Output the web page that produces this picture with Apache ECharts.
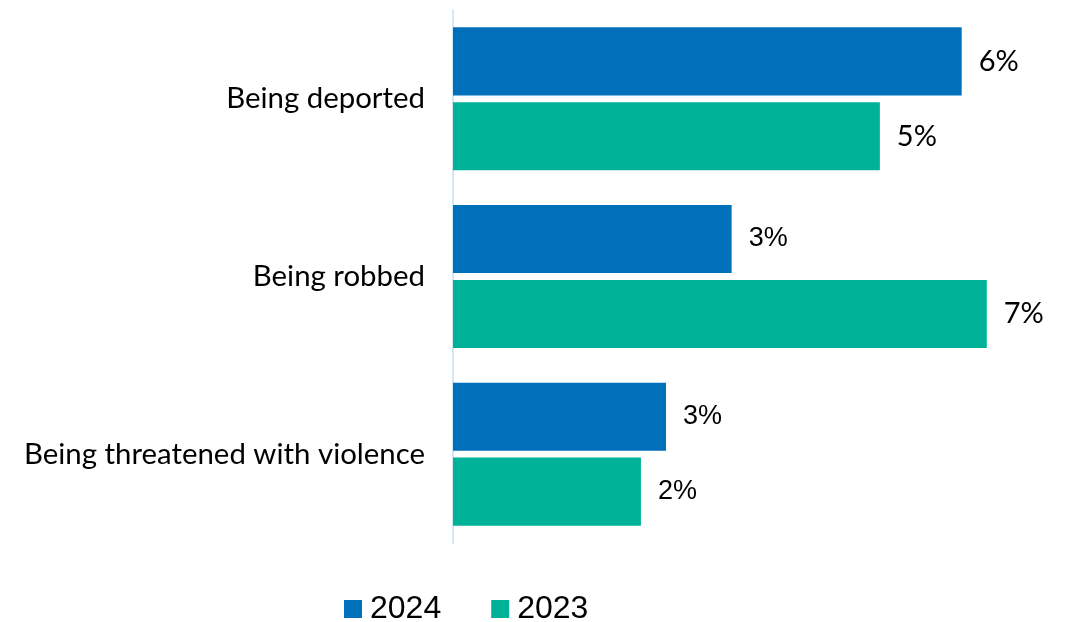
<!DOCTYPE html>
<html>
<head>
<meta charset="utf-8">
<script src="https://cdn.jsdelivr.net/npm/echarts@6/dist/echarts.min.js"></script>
<style>
  html, body { margin: 0; padding: 0; background: #ffffff; }
  #chart { width: 1066px; height: 622px; }
</style>
</head>
<body>
<div id="chart"></div>
<script>
// Share of respondents reporting each experience, by survey year (%)
const categories = ['Being deported', 'Being robbed', 'Being threatened with violence'];
const seriesNames = ['2024', '2023'];
const values2024 = [6.28, 3.44, 2.63];
const values2023 = [5.27, 6.59, 2.32];

const BLUE = '#0070BA';
const GREEN = '#00B398';
const LATO = 'Lato';
const SANS = '"Liberation Sans", Arial, sans-serif';

const chart = echarts.init(document.getElementById('chart'), null, { renderer: 'canvas' });

// Larger shares are set in Lato, the smaller ones in a plain sans face
const barLabel = {
  show: true,
  position: 'right',
  distance: 17,
  color: '#000000',
  formatter: p => {
    const pct = Math.round(p.value) + '%';
    return p.value >= 4.5 ? '{lato|' + pct + '}' : '{sans|' + pct + '}';
  },
  rich: {
    lato: { fontFamily: LATO, fontSize: 29, color: '#000000' },
    sans: { fontFamily: SANS, fontSize: 27, color: '#000000' }
  }
};

chart.setOption({
  animation: false,
  backgroundColor: '#ffffff',
  grid: { left: 453, right: 46, top: 10, bottom: 79, containLabel: false },
  legend: {
    data: seriesNames,
    left: 344,
    top: 593,
    padding: 0,
    itemWidth: 18,
    itemHeight: 18,
    itemGap: 50,
    icon: 'rect',
    textStyle: { fontFamily: SANS, fontSize: 32, color: '#000000', padding: [2, 0, 0, 3] }
  },
  xAxis: {
    type: 'value',
    min: 0,
    max: 7,
    show: false
  },
  yAxis: {
    type: 'category',
    data: categories,
    inverse: true,
    axisLine: { show: true, lineStyle: { color: '#D3E8F7', width: 2 } },
    axisTick: { show: false },
    axisLabel: {
      fontFamily: LATO,
      fontSize: 29.4,
      color: '#000000',
      margin: 28
    }
  },
  series: [
    {
      name: seriesNames[0],
      type: 'bar',
      data: values2024,
      itemStyle: { color: BLUE },
      barGap: '10%',
      barCategoryGap: '19.5%',
      label: barLabel
    },
    {
      name: seriesNames[1],
      type: 'bar',
      data: values2023,
      itemStyle: { color: GREEN },
      barGap: '10%',
      barCategoryGap: '19.5%',
      label: barLabel
    }
  ]
});
</script>
</body>
</html>
